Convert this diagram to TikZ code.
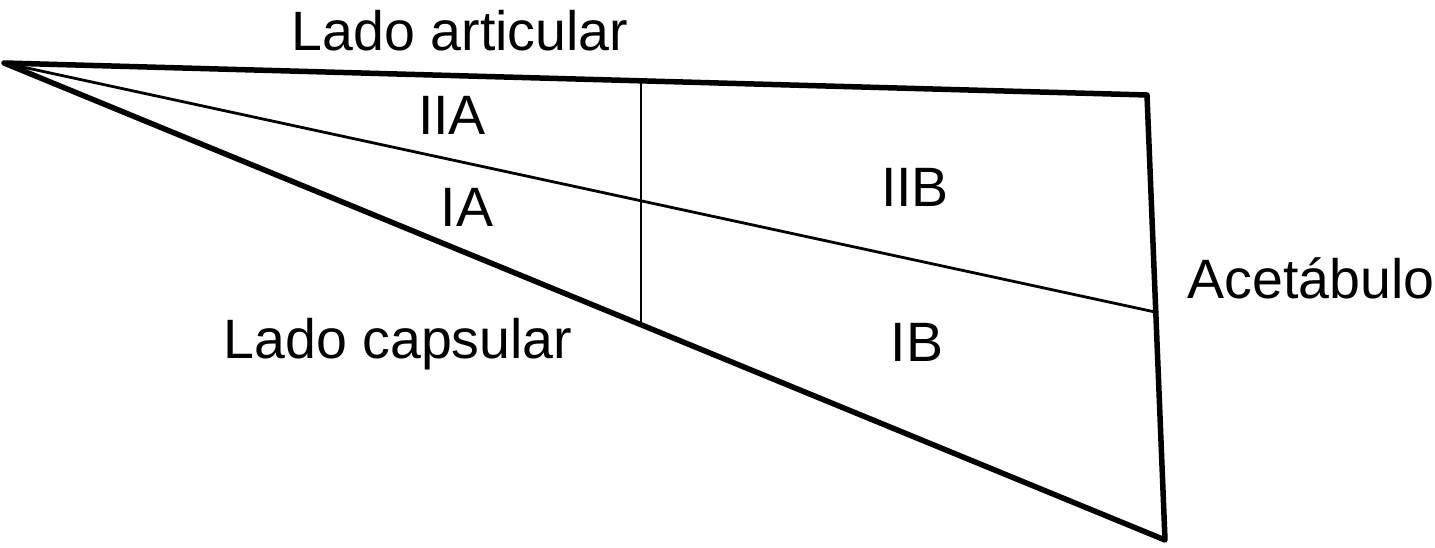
\documentclass[tikz,border=0pt]{standalone}
\usepackage{fontspec}
\setmainfont{Liberation Sans}
\begin{document}
\begin{tikzpicture}[x=1pt,y=-1pt,
  thick edge/.style={line width=5.5pt,line join=round,line cap=round},
  thin edge/.style={line width=2.8pt},
  lbl/.style={font=\fontsize{55.5}{64}\selectfont,inner sep=0pt,anchor=center}]
\useasboundingbox (0,0) rectangle (1435,548);
\coordinate (apex) at (4,63);
\coordinate (tr) at (1147,95);
\coordinate (br) at (1165,540);
\coordinate (mr) at (1155,312);
\coordinate (vt) at (641,81);
\coordinate (vb) at (641,325);
\draw[thick edge] (apex) -- (tr) -- (br) -- cycle;
\draw[thin edge] (apex) -- (mr);
\draw[thin edge] (vt) -- (vb);
\node[lbl] (la) at (460,31) {Lado articular};
\node[lbl] (iia) at (452,115) {IIA};
\node[lbl] (ia) at (467,207) {IA};
\node[lbl] (iib) at (915,187) {IIB};
\node[lbl] (ib) at (917,342) {IB};
\node[lbl] (ac) at (1311,278) {Acetábulo};
\node[lbl] (lc) at (398,344) {Lado capsular};
\end{tikzpicture}
\end{document}
